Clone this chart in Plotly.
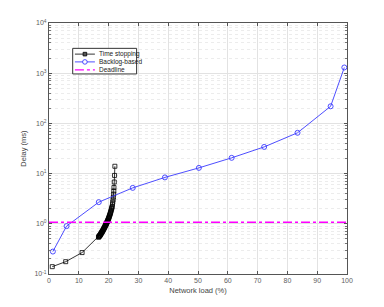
import plotly.graph_objects as go

# Time stopping series
ts_load = [1.1, 5.6, 11.1, 16.6, 16.7, 16.8, 16.9, 17.0, 17.1, 17.2, 17.3, 17.4, 17.5, 17.6,
           17.7, 17.8, 17.9, 18.0, 18.1, 18.2, 18.3, 18.4, 18.5, 18.6, 18.7, 18.8, 18.9,
           19.0, 19.1, 19.2, 19.3, 19.4, 19.5, 19.6, 19.7, 19.8, 19.9, 20.0, 20.1, 20.2,
           20.3, 20.4, 20.5, 20.6, 20.7, 20.8, 20.9, 21.0, 21.1, 21.2, 21.3, 21.4, 21.5,
           21.6, 21.7, 21.75, 21.8, 21.9, 22.0, 22.1]
ts_delay = [0.14, 0.176, 0.267, 0.54, 0.55, 0.56, 0.57, 0.58, 0.59, 0.60, 0.615, 0.63, 0.645,
            0.66, 0.675, 0.69, 0.705, 0.72, 0.74, 0.76, 0.78, 0.80, 0.82, 0.84, 0.865, 0.89,
            0.915, 0.94, 0.965, 0.99, 1.02, 1.05, 1.085, 1.12, 1.155, 1.19, 1.235, 1.28,
            1.33, 1.38, 1.44, 1.5, 1.56, 1.63, 1.71, 1.8, 1.9, 2.0, 2.1, 2.2, 2.45, 2.7,
            3.0, 3.4, 3.9, 4.5, 5.3, 6.8, 9.2, 14.0]

# Backlog-based series
bb_load = [1.3, 5.9, 16.7, 28.1, 38.9, 50.3, 61.3, 72.2, 83.4, 94.5, 99.1]
bb_delay = [0.28, 0.9, 2.7, 5.2, 8.4, 13.0, 20.6, 34.0, 65.0, 219.0, 1300.0]

# Deadline
dl_load = [0, 100]
dl_delay = [1.07, 1.07]

x_ticks = [0, 10, 20, 30, 40, 50, 60, 70, 80, 90, 100]
y_ticks = [0.1, 1, 10, 100, 1000, 10000]
y_ticktext = ["10<sup>-1</sup>", "10<sup>0</sup>", "10<sup>1</sup>", "10<sup>2</sup>",
              "10<sup>3</sup>", "10<sup>4</sup>"]
y_minor = [m * 10 ** e for e in range(-1, 4) for m in range(2, 10)]

legend_names = ["Time stopping", "Backlog-based", "Deadline"]

BLACK = "black"
BLUE = "#3a3aff"
MAGENTA = "#ff00ff"
FONT = "Liberation Sans, Arial"

fig = go.Figure()
fig.add_trace(go.Scatter(x=ts_load, y=ts_delay, mode="lines+markers", name=legend_names[0],
                         line=dict(color=BLACK, width=0.8),
                         marker=dict(symbol="square-open", size=4, color=BLACK, line=dict(width=0.8))))
fig.add_trace(go.Scatter(x=bb_load, y=bb_delay, mode="lines+markers", name=legend_names[1],
                         line=dict(color=BLUE, width=0.9),
                         marker=dict(symbol="circle-open", size=5, color=BLUE, line=dict(width=0.9))))
fig.add_trace(go.Scatter(x=dl_load, y=dl_delay, mode="lines", name=legend_names[2],
                         line=dict(color=MAGENTA, width=1.5, dash="dashdot")))

axis_common = dict(showline=True, linecolor="#555555", linewidth=1, mirror="ticks",
                   ticks="inside", ticklen=3, tickcolor="#555555",
                   tickfont=dict(family=FONT, size=7, color="#606060"),
                   gridcolor="#e2e2e2", gridwidth=1, zeroline=False, automargin=False)

fig.update_xaxes(range=[0, 100], tickvals=x_ticks,
                 title=dict(text="Network load (%)", font=dict(family=FONT, size=7.5, color="#444444"), standoff=4),
                 **axis_common)
fig.update_yaxes(type="log", range=[-1, 4], tickvals=y_ticks, ticktext=y_ticktext,
                 title=dict(text="Delay (ms)", font=dict(family=FONT, size=7.5, color="#444444"), standoff=6),
                 minor=dict(tickmode="array", tickvals=y_minor, ticks="inside", ticklen=2,
                            tickcolor="#777777", showgrid=True,
                            gridcolor="#ececec", griddash="dot", gridwidth=1),
                 **axis_common)

# Manual compact legend (paper coordinates)
shapes = []
annotations = []
bx0, bx1, by0, by1 = 0.0795, 0.294, 0.797, 0.899
shapes.append(dict(type="rect", xref="paper", yref="paper", x0=bx0, x1=bx1, y0=by0, y1=by1,
                   line=dict(color="#333333", width=1), fillcolor="white", layer="above"))
rows = [0.876, 0.845, 0.813]
lx0, lx1, mx, tx = 0.087, 0.154, 0.1205, 0.162
styles = [(BLACK, 0.8, "solid"), (BLUE, 0.9, "solid"), (MAGENTA, 1.2, "dashdot")]
for name, yy, (col, w, dash) in zip(legend_names, rows, styles):
    shapes.append(dict(type="line", xref="paper", yref="paper", x0=lx0, x1=lx1, y0=yy, y1=yy,
                       line=dict(color=col, width=w, dash=dash), layer="above"))
    annotations.append(dict(xref="paper", yref="paper", x=tx, y=yy, text=name, showarrow=False,
                            xanchor="left", yanchor="middle",
                            font=dict(family=FONT, size=6.5, color="#222222")))
# legend markers
sw, sh = 3.6 / 298, 3.6 / 251
shapes.append(dict(type="rect", xref="paper", yref="paper", x0=mx - sw / 2, x1=mx + sw / 2,
                   y0=rows[0] - sh / 2, y1=rows[0] + sh / 2, line=dict(color=BLACK, width=0.8),
                   fillcolor="#555555", layer="above"))
cw, ch = 4.6 / 298, 4.6 / 251
shapes.append(dict(type="circle", xref="paper", yref="paper", x0=mx - cw / 2, x1=mx + cw / 2,
                   y0=rows[1] - ch / 2, y1=rows[1] + ch / 2, line=dict(color=BLUE, width=0.9),
                   fillcolor="white", layer="above"))

fig.update_layout(width=384, height=307, margin=dict(l=49, r=37, t=23, b=33),
                  paper_bgcolor="white", plot_bgcolor="white", showlegend=False,
                  shapes=shapes, annotations=annotations)

fig.write_html("out.html", config={"displayModeBar": False},
               post_script="document.body.style.margin='0px';")
